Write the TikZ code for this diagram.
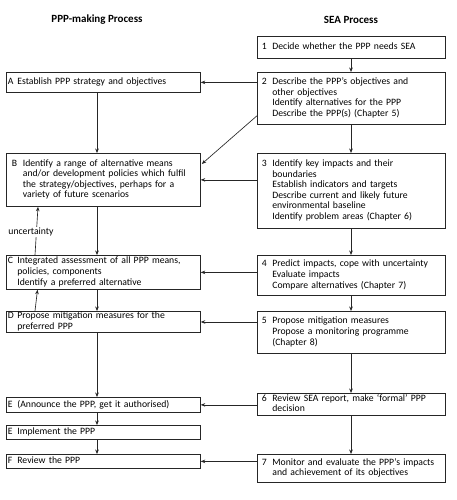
\documentclass[tikz,border=0pt]{standalone}
\usepackage{fontspec}
\setmainfont{Carlito}
\usetikzlibrary{arrows.meta,calc}
\newcommand{\bxt}[3]{\makebox[#1][l]{#2}\begin{tabular}[t]{@{}l@{}}#3\end{tabular}}
\begin{document}
\begin{tikzpicture}[x=1pt,y=-1pt,
  box/.style={draw=black!85, line width=0.75pt, anchor=north west, inner ysep=0pt, align=left,
    font=\fontsize{9.7}{10.6}\selectfont},
  lbox/.style={box, inner xsep=1.5pt, text width=191pt, minimum width=194pt},
  rbox/.style={box, inner xsep=4.5pt, text width=179pt, minimum width=188pt},
  arr/.style={draw=black!85, line width=0.65pt, -{Stealth[length=4.5pt,width=3.6pt]}},
  hd/.style={font=\fontsize{11}{13}\selectfont\bfseries}
]
\fill[white] (0,0) rectangle (456,500);
\useasboundingbox (0,0) rectangle (456,500);
\coordinate (lx) at (97,0);
\coordinate (rx) at (351,0);

\node[hd] (h1) at (97,20) {PPP-making Process};
\node[hd] (h2) at (351,20) {SEA Process};

% SEA process boxes
\node[rbox, minimum height=22pt] (n1) at (257,36) {\bxt{10.5pt}{1}{Decide whether the PPP needs SEA}};
\node[rbox, minimum height=52pt] (n2) at (257,72) {\bxt{10.5pt}{2}{Describe the PPP’s objectives and\\other objectives\\Identify alternatives for the PPP\\Describe the PPP(s) (Chapter 5)}};
\node[rbox, minimum height=75pt] (n3) at (257,153) {\bxt{10.5pt}{3}{Identify key impacts and their\\boundaries\\Establish indicators and targets\\Describe current and likely future\\environmental baseline\\Identify problem areas (Chapter 6)}};
\node[rbox, minimum height=40pt] (n4) at (257,255) {\bxt{10.5pt}{4}{Predict impacts, cope with uncertainty\\Evaluate impacts\\Compare alternatives (Chapter 7)}};
\node[rbox, minimum height=42pt] (n5) at (257,311) {\bxt{10.5pt}{5}{Propose mitigation measures\\Propose a monitoring programme\\(Chapter 8)}};
\node[rbox, minimum height=22pt] (n6) at (257,393) {\bxt{10.5pt}{6}{Review SEA report, make ‘formal’ PPP\\decision}};
\node[rbox, minimum height=28pt] (n7) at (257,454) {\bxt{10.5pt}{7}{Monitor and evaluate the PPP’s impacts\\and achievement of its objectives}};

% PPP-making boxes
\node[lbox, minimum height=20pt] (nA) at (6,72) {\bxt{9.5pt}{A}{Establish PPP strategy and objectives}};
\node[lbox, minimum height=53pt] (nB) at (6,153) {\hspace{4pt}\bxt{11pt}{B}{Identify a range of alternative means\\and/or development policies which fulfil\\the strategy/objectives, perhaps for a\\variety of future scenarios}};
\node[lbox, minimum height=34pt] (nC) at (6,255) {\bxt{9.5pt}{C}{Integrated assessment of all PPP means,\\policies, components\\Identify a preferred alternative}};
\node[lbox, minimum height=21pt] (nD) at (6,311) {\bxt{9.5pt}{D}{Propose mitigation measures for the\\preferred PPP}};
\node[lbox, minimum height=15pt] (nE1) at (6,397) {\bxt{9.5pt}{E}{(Announce the PPP, get it authorised)}};
\node[lbox, minimum height=14pt] (nE2) at (6,425) {\bxt{9.5pt}{E}{Implement the PPP}};
\node[lbox, minimum height=14pt] (nF) at (6,454) {\bxt{9.5pt}{F}{Review the PPP}};

% vertical connectors, SEA side
\draw[arr] (n1.south -| rx) -- (n2.north -| rx);
\draw[arr] (n2.south -| rx) -- (n3.north -| rx);
\draw[arr] (n3.south -| rx) -- (n4.north -| rx);
\draw[arr] (n4.south -| rx) -- (n5.north -| rx);
\draw[arr] (n5.south -| rx) -- (n6.north -| rx);
\draw[arr] (n6.south -| rx) -- (n7.north -| rx);

% vertical connectors, PPP side
\draw[arr] (nA.south -| lx) -- (nB.north -| lx);
\draw[arr] (nB.south -| lx) -- (nC.north -| lx);
\draw[arr] (nC.south -| lx) -- (nD.north -| lx);
\draw[arr] (nD.south -| lx) -- (nE1.north -| lx);
\draw[arr] (nE1.south -| lx) -- (nE2.north -| lx);
\draw[arr] (nE2.south -| lx) -- (nF.north -| lx);

% horizontal connectors
\draw[arr] (n2.west |- nA.east) -- (nA.east);
\draw[arr] (n3.west |- nB.east) -- (nB.east);
\draw[arr] (n4.west |- nC.east) -- (nC.east);
\draw[arr] (n5.west |- nD.east) -- (nD.east);
\draw[arr] (n6.west |- nE1.east) -- (nE1.east);
\draw[arr] (n7.west |- nF.east) -- (nF.east);

% diagonal
\draw[arr] ($(n2.south west)+(0,-9)$) -- ($(nB.north east)+(1,11)$);

% uncertainty feedback
\draw[arr] ($(nD.north west)+(29,0)$) -- ($(nC.south west)+(31.5,0)$);
\draw[arr] ($(nC.north west)+(29,0)$) -- ($(nB.south west)+(32,0)$);
\node[fill=white, inner sep=1pt, font=\fontsize{9.7}{10.6}\selectfont] (unc) at (31,232) {uncertainty};
\end{tikzpicture}
\end{document}
